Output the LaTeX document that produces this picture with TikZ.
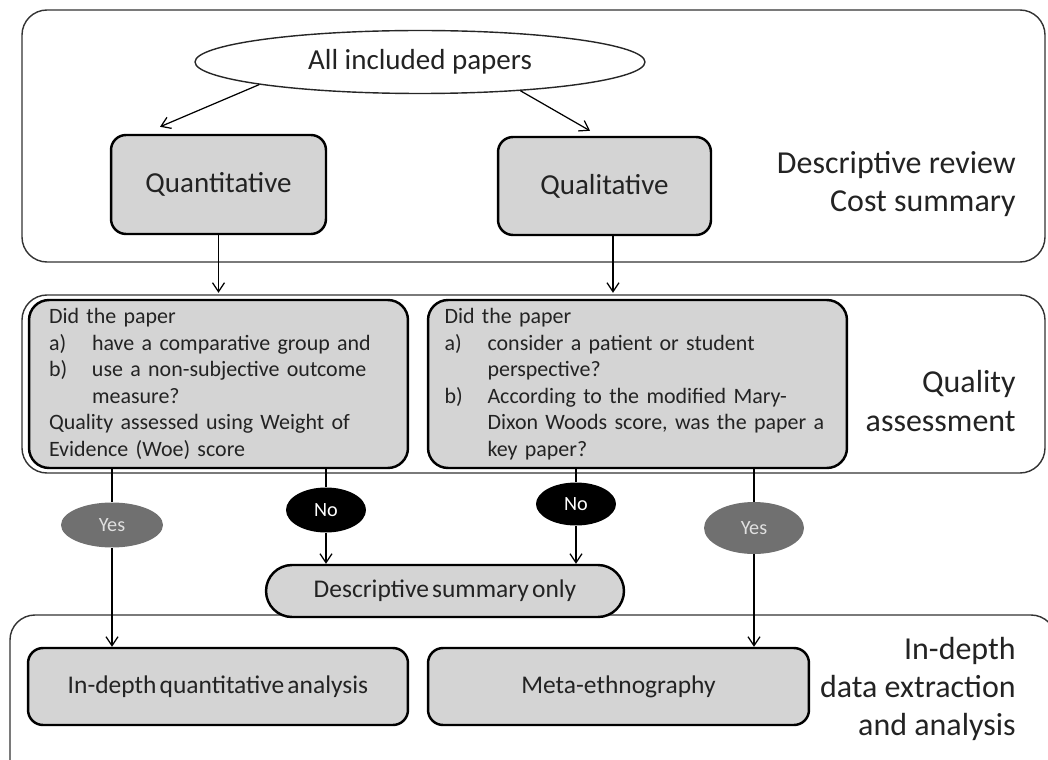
\documentclass[tikz,border=0pt]{standalone}
\usepackage{fontspec}
\setmainfont{Carlito}
\newfontfamily\tightfont{Carlito}[WordSpace=0.55]
\usetikzlibrary{arrows.meta,shapes.geometric}
\definecolor{boxgray}{RGB}{212,212,212}
\definecolor{yesgray}{RGB}{112,112,112}
\definecolor{inkgray}{RGB}{35,35,35}

\begin{document}
\begin{tikzpicture}[x=0.02cm, y=-0.02cm,
  panel/.style={draw=black!80, line width=0.8pt, rounded corners=0.5cm},
  graybox/.style={draw=black, line width=1.4pt, fill=boxgray, rounded corners=0.3cm,
    text=inkgray, inner sep=0pt},
  checkbox/.style={graybox, align=left, minimum height=3.36cm,
    rounded corners=0.4cm, font=\tightfont\fontsize{12.5}{15.1}\selectfont},
  arr/.style={-{Straight Barb[length=0.18cm,width=0.24cm]}, line width=0.7pt},
  link/.style={line width=0.7pt},
  yesnode/.style={ellipse, fill=yesgray, text=black!12, inner sep=0pt,
    minimum width=2.04cm, minimum height=0.9cm, font=\fontsize{11.5}{13}\selectfont},
  nonode/.style={ellipse, fill=black, text=white, inner sep=0pt,
    minimum width=1.6cm, minimum height=0.9cm, font=\fontsize{11.5}{13}\selectfont},
  phase/.style={anchor=east, align=right, inner xsep=0pt, text=inkgray,
    font=\fontsize{18.2}{21.8}\selectfont}
]
  \useasboundingbox (0,0) rectangle (1048,760);

  % Phase panels
  \draw[panel] (22,10) rectangle (1045,262);
  \draw[panel] (22,295) rectangle (1045,473);
  \draw[panel] (10,615) rectangle (1056,790);

  % Descriptive review
  \node[draw=black!85, line width=0.8pt, ellipse, minimum width=9cm, minimum height=1.26cm,
    text=inkgray, font=\fontsize{16.5}{19}\selectfont] (all) at (420,62) {All included papers};
  \node[graybox, minimum width=4.3cm, minimum height=1.98cm, font=\fontsize{16.5}{19}\selectfont]
    (quant) at (218.5,184.5) {Quantitative};
  \node[graybox, minimum width=4.26cm, minimum height=1.96cm, font=\fontsize{16.5}{19}\selectfont]
    (qual) at (604.5,186) {Qualitative};
  \node[phase] (descLbl) at (1016,184) {Descriptive review\\Cost summary};
  \draw[arr] (all.188) -- ([xshift=-1.17cm, yshift=0.14cm]quant.north);
  \draw[arr] (all.-16) -- ([xshift=-0.29cm, yshift=0.1cm]qual.north);

  % Quality assessment
  \node[checkbox, inner xsep=0.4cm, text width=6.78cm] (chkA) at (218.5,384) {Did the paper\\
    \makebox[0.86cm][l]{a)}have a comparative group and\\
    \makebox[0.86cm][l]{b)}use a non-subjective outcome\\
    \hspace*{0.86cm}measure?\\
    Quality assessed using Weight of\\
    Evidence (Woe) score};
  \node[checkbox, inner xsep=0.33cm, text width=7.72cm] (chkB) at (637.5,384) {Did the paper\\
    \makebox[0.86cm][l]{a)}consider a patient or student\\
    \hspace*{0.86cm}perspective?\\
    \makebox[0.86cm][l]{b)}According to the modified Mary-\\
    \hspace*{0.86cm}Dixon Woods score, was the paper a\\
    \hspace*{0.86cm}key paper?};
  \node[phase] (qualLbl) at (1016,401) {Quality\\assessment};
  \coordinate (qualOut) at ([xshift=0.17cm]qual.south);
  \draw[arr, shorten >=0.12cm] (quant.south) -- (quant.south |- chkA.north);
  \draw[arr, shorten >=0.12cm] (qualOut) -- (qualOut |- chkB.north);

  % Decisions
  \node[yesnode] (yesA) at (112,525) {Yes};
  \node[nonode] (noA) at (326,510) {No};
  \node[nonode, minimum height=0.86cm] (noB) at (576,504) {No};
  \node[yesnode, minimum width=2cm, minimum height=1.04cm] (yesB) at (754,528) {Yes};
  \node[graybox, minimum width=7.16cm, minimum height=1.04cm, rounded corners=0.52cm,
    font=\tightfont\fontsize{14.5}{17}\selectfont] (desc) at (445,591) {Descriptive summary only};

  % In-depth
  \node[graybox, minimum width=7.6cm, minimum height=1.54cm,
    font=\tightfont\fontsize{14.5}{17}\selectfont]
    (inA) at (218,686.5) {In-depth quantitative analysis};
  \node[graybox, minimum width=7.62cm, minimum height=1.54cm,
    font=\tightfont\fontsize{14.5}{17}\selectfont]
    (meta) at (618.5,686.5) {Meta-ethnography};
  \node[phase] (inLbl) at (1016,689) {In-depth\\data extraction\\and analysis};

  \draw[link] (yesA.north |- chkA.south) -- (yesA.north);
  \draw[arr] (yesA.south) -- (yesA.south |- inA.north);
  \draw[link] (noA.north |- chkA.south) -- (noA.north);
  \draw[arr] (noA.south) -- (noA.south |- desc.north);
  \draw[link] (noB.north |- chkB.south) -- (noB.north);
  \draw[arr] (noB.south) -- (noB.south |- desc.north);
  \draw[link] (yesB.north |- chkB.south) -- (yesB.north);
  \draw[arr] (yesB.south) -- (yesB.south |- meta.north);
\end{tikzpicture}
\end{document}
